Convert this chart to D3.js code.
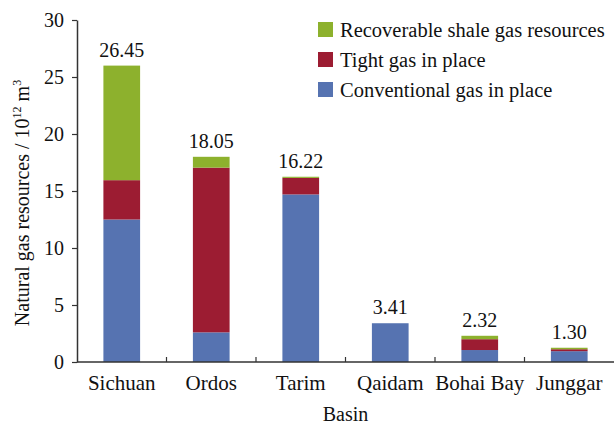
<!DOCTYPE html>
<html>
<head>
<meta charset="utf-8">
<script src="https://cdn.jsdelivr.net/npm/d3@7"></script>
<style>
  body { margin: 0; background: #fff; }
  svg text { font-family: "Liberation Serif", "Times New Roman", serif; fill: #111; }
</style>
</head>
<body>
<svg id="chart" width="615" height="429"></svg>
<script>
const basins = ["Sichuan", "Ordos", "Tarim", "Qaidam", "Bohai Bay", "Junggar"];
const conventional = [12.5, 2.6, 14.7, 3.4, 1.05, 0.95];
const tight = [3.45, 14.45, 1.45, 0, 0.95, 0.17];
const shale = [10.05, 0.95, 0.1, 0, 0.3, 0.13];
const totalLabels = ["26.45", "18.05", "16.22", "3.41", "2.32", "1.30"];
const yTicks = [0, 5, 10, 15, 20, 25, 30];

const seriesKeys = ["conventional", "tight", "shale"];
const seriesNames = {
    shale: "Recoverable shale gas resources",
    tight: "Tight gas in place",
    conventional: "Conventional gas in place"
};
const colors = { conventional: "#5673b1", tight: "#9c1c32", shale: "#8db12d" };

const width = 615, height = 429;
const margin = { top: 20, right: 1, bottom: 67, left: 77 };

const svg = d3.select("#chart");

const table = basins.map((b, i) => ({
    basin: b, conventional: conventional[i], tight: tight[i], shale: shale[i], label: totalLabels[i]
}));

const x = d3.scaleBand()
    .domain(basins)
    .range([margin.left, width - margin.right])
    .paddingInner(0.59)
    .paddingOuter(0.295);

const xOuter = d3.scaleBand()
    .domain(basins)
    .range([margin.left, width - margin.right]);

const y = d3.scaleLinear()
    .domain([0, 30])
    .range([height - margin.bottom, margin.top]);

const stacked = d3.stack().keys(seriesKeys)(table);

svg.append("g")
    .selectAll("g")
    .data(stacked)
    .join("g")
    .attr("fill", d => colors[d.key])
    .selectAll("rect")
    .data(d => d)
    .join("rect")
    .attr("x", d => x(d.data.basin))
    .attr("y", d => y(d[1]))
    .attr("width", x.bandwidth())
    .attr("height", d => Math.max(0, y(d[0]) - y(d[1])));

// total labels
const topLayer = stacked[stacked.length - 1];
svg.append("g")
    .selectAll("text")
    .data(topLayer)
    .join("text")
    .attr("x", d => x(d.data.basin) + x.bandwidth() / 2)
    .attr("y", d => y(d[1]) - 9)
    .attr("text-anchor", "middle")
    .style("font-size", "20px")
    .text(d => d.data.label);

// x axis
const xAxis = svg.append("g")
    .attr("transform", `translate(0,${y(0)})`);
xAxis.append("line")
    .attr("x1", margin.left).attr("x2", width - margin.right)
    .attr("stroke", "#333").attr("stroke-width", 1.5);
xAxis.selectAll("line.tk")
    .data(basins.slice(1))
    .join("line")
    .attr("class", "tk")
    .attr("x1", d => xOuter(d)).attr("x2", d => xOuter(d))
    .attr("y1", 0).attr("y2", -5)
    .attr("stroke", "#333").attr("stroke-width", 1.2);
xAxis.selectAll("text")
    .data(basins)
    .join("text")
    .attr("x", d => xOuter(d) + xOuter.bandwidth() / 2)
    .attr("y", 28)
    .attr("text-anchor", "middle")
    .style("font-size", "21px")
    .text(d => d);

// y axis
svg.append("g")
    .attr("transform", `translate(${margin.left},0)`)
    .call(d3.axisLeft(y).tickValues(yTicks).tickSize(5).tickSizeOuter(0).tickPadding(8))
    .call(g => g.select(".domain").attr("stroke", "#333").attr("stroke-width", 1.5))
    .call(g => g.selectAll(".tick line").attr("stroke", "#333").attr("stroke-width", 1.2))
    .call(g => g.selectAll(".tick text")
        .style("font-size", "20px")
        .attr("fill", "#111")
        .style("font-family", "'Liberation Serif', serif"));

// axis titles
svg.append("text")
    .attr("x", (margin.left + width - margin.right) / 2)
    .attr("y", 421)
    .attr("text-anchor", "middle")
    .style("font-size", "20px")
    .text("Basin");

const yTitle = svg.append("text")
    .attr("transform", `translate(29,${(y(0) + y(30)) / 2 + 12}) rotate(-90)`)
    .attr("text-anchor", "middle")
    .style("font-size", "20px");
yTitle.append("tspan").text("Natural gas resources / 10");
yTitle.append("tspan").attr("dy", -8).style("font-size", "12px").text("12");
yTitle.append("tspan").attr("dy", 8).text(" m");
yTitle.append("tspan").attr("dy", -8).style("font-size", "12px").text("3");

// legend
const legendKeys = ["shale", "tight", "conventional"];
const legend = svg.append("g")
    .attr("transform", "translate(318,22)")
    .selectAll("g")
    .data(legendKeys)
    .join("g")
    .attr("transform", (d, i) => `translate(0,${i * 30})`);
legend.append("rect")
    .attr("width", 15).attr("height", 15)
    .attr("fill", d => colors[d]);
legend.append("text")
    .attr("x", 22)
    .attr("y", 7.5)
    .attr("dy", "0.35em")
    .style("font-size", "20.5px")
    .text(d => seriesNames[d]);
</script>
</body>
</html>
